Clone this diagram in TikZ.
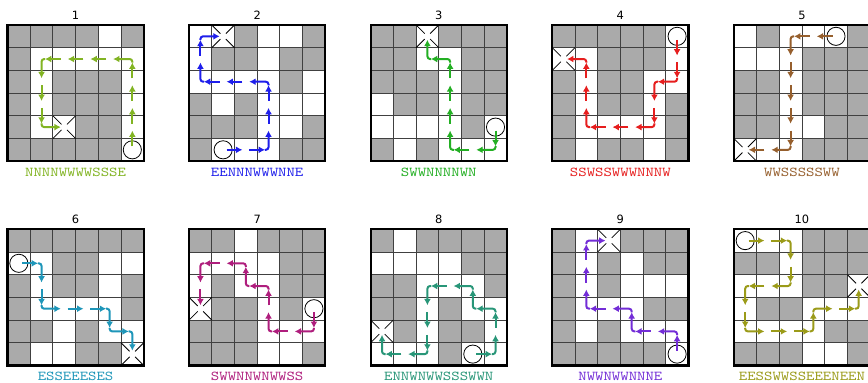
\documentclass[tikz,border=0pt]{standalone}
\usepackage{fontspec}
\usepackage{tikz}
\usetikzlibrary{arrows.meta}
\newfontfamily\numfont{DejaVu Sans}

\definecolor{cellgray}{RGB}{170,170,170}
\definecolor{walkA}{RGB}{130,180,35}
\definecolor{walkB}{RGB}{30,30,235}
\definecolor{walkC}{RGB}{35,175,35}
\definecolor{walkD}{RGB}{230,30,30}
\definecolor{walkE}{RGB}{150,95,45}
\definecolor{walkF}{RGB}{30,150,185}
\definecolor{walkG}{RGB}{175,30,125}
\definecolor{walkH}{RGB}{40,150,120}
\definecolor{walkI}{RGB}{115,45,215}
\definecolor{walkJ}{RGB}{155,155,25}

\tikzset{
  cellline/.style={draw=black!75,line width=0.6pt},
  boardframe/.style={draw=black,line width=1.6pt},
  walk/.style={draw=#1,line width=1.5pt,-{Latex[length=4.8pt,width=5.2pt]},shorten >=2.6pt},
  thinmark/.style={draw=black,line width=0.6pt},
  numlabel/.style={font=\numfont\fontsize{8.6}{10}\selectfont},
  codelabel/.style={font=\ttfamily\fontsize{10.2}{12}\selectfont,xscale=1.18},
}

% board rows: G = grey cell, W = white cell
\def\mzcells#1{\ifx#1\relax\else
  \if#1G\fill[cellgray] (\mzcol,-\mzrow) rectangle ++(1,-1);\fi
  \pgfmathtruncatemacro\mzcol{\mzcol+1}%
  \expandafter\mzcells\fi}
\newcommand\boardrow[2]{\def\mzrow{#1}\def\mzcol{0}\mzcells#2\relax}
\newcommand\board[6]{%
  \fill[white] (0,0) rectangle (6,-6);
  \boardrow{0}{#1}\boardrow{1}{#2}\boardrow{2}{#3}%
  \boardrow{3}{#4}\boardrow{4}{#5}\boardrow{5}{#6}%
  \draw[cellline,step=1] (0,-6) grid (6,0);
  \draw[boardframe] (0,0) rectangle (6,-6);}

% moves: N, S, E, W from the start cell
\newcommand\mzstep[1]{%
  \def\mzdir{#1}%
  \if#1N\def\mzdx{0}\def\mzdy{1}\fi
  \if#1S\def\mzdx{0}\def\mzdy{-1}\fi
  \if#1E\def\mzdx{1}\def\mzdy{0}\fi
  \if#1W\def\mzdx{-1}\def\mzdy{0}\fi
  \pgfmathsetmacro\mznx{\mzx+\mzdx}\pgfmathsetmacro\mzny{\mzy+\mzdy}%
  \ifx\mzdir\mzlast
    \draw[walk=\walkcol,shorten <=2.6pt] (\mzx,\mzy) -- (\mznx,\mzny);
  \else
    \pgfmathsetmacro\mzbx{\mzx-0.16*(\mzldx)}\pgfmathsetmacro\mzby{\mzy-0.16*(\mzldy)}%
    \draw[walk=\walkcol,rounded corners=2pt] (\mzbx,\mzby) -- (\mzx,\mzy) -- (\mznx,\mzny);
  \fi
  \let\mzlast\mzdir\let\mzldx\mzdx\let\mzldy\mzdy
  \let\mzx\mznx\let\mzy\mzny}
\def\mzloop#1{\ifx#1\relax\else\mzstep#1\expandafter\mzloop\fi}
\def\mzfirst#1{\def\mzlast{#1}\mzloop#1}
\newcommand\walk[5]{%
  \def\walkcol{#1}%
  \pgfmathsetmacro\mzx{#2+0.5}\pgfmathsetmacro\mzy{-#3-0.5}%
  \draw[thinmark] (\mzx,\mzy) circle (0.4);
  \mzfirst#4\relax
  \foreach \sx/\sy in {1/1,1/-1,-1/1,-1/-1}
    \draw[thinmark] (\mzx+0.5*\sx,\mzy+0.5*\sy) -- (\mzx+0.12*\sx,\mzy+0.12*\sy);
  \node[codelabel,text=#1] (#5) at (3,-6.5) {#4};}

\begin{document}
\begin{tikzpicture}[x=0.6cm,y=0.6cm]
  \fill[white] (0,0) rectangle (38.24,-16.83);
  \useasboundingbox (0,0) rectangle (38.24,-16.83);
  \clip (0,0) rectangle (38.24,-16.83);
  % top row
  \begin{scope}[shift={(0.33,-1.1)}]
    \board{GGGGWG}{GWWWWW}{GWGGGW}{GWGGGW}{GWWGGW}{GGGGGW}
    \walk{walkA}{5}{5}{NNNNWWWWSSSE}{code1}
    \node[numlabel] (num1) at (3,0.44) {1};
  \end{scope}
  \begin{scope}[shift={(8.33,-1.1)}]
    \board{WWGWWG}{WGGWGG}{WWWWGW}{GWGWWW}{GGGWWG}{GWWWGG}
    \walk{walkB}{1}{5}{EENNNWWWNNE}{code2}
    \node[numlabel] (num2) at (3,0.44) {2};
  \end{scope}
  \begin{scope}[shift={(16.33,-1.1)}]
    \board{GGWGGG}{GGWWGG}{GGGWGG}{WGGWGG}{WWWWGW}{GWGWWW}
    \walk{walkC}{5}{4}{SWWNNNNWN}{code3}
    \node[numlabel] (num3) at (3,0.44) {3};
  \end{scope}
  \begin{scope}[shift={(24.33,-1.1)}]
    \board{GGGGGW}{WWGGGW}{GWGGWW}{GWGGWG}{GWWWWG}{GWGGWG}
    \walk{walkD}{5}{0}{SSWSSWWWNNNW}{code4}
    \node[numlabel] (num4) at (3,0.44) {4};
  \end{scope}
  \begin{scope}[shift={(32.33,-1.1)}]
    \board{WGWWWG}{WWWGGG}{GGWGGG}{GGWGGG}{GGWWGG}{WWWGGG}
    \walk{walkE}{4}{0}{WWSSSSSWW}{code5}
    \node[numlabel] (num5) at (3,0.44) {5};
  \end{scope}
  % bottom row
  \begin{scope}[shift={(0.33,-10.1)}]
    \board{GGGGGG}{WWGGWW}{GWGGWG}{GWWWWG}{GGWGWW}{GWWGGW}
    \walk{walkF}{0}{1}{ESSEEESES}{code6}
    \node[numlabel] (num6) at (3,0.44) {6};
  \end{scope}
  \begin{scope}[shift={(8.33,-10.1)}]
    \board{GGWGGG}{WWWWGG}{WGWWGG}{WGGWGW}{GGGWWW}{GGGWWG}
    \walk{walkG}{5}{3}{SWWNNWNWWSS}{code7}
    \node[numlabel] (num7) at (3,0.44) {7};
  \end{scope}
  \begin{scope}[shift={(16.33,-10.1)}]
    \board{GWGGGG}{WWWWGG}{GGWWWG}{GGWGWW}{WGWGGW}{WWWGWW}
    \walk{walkH}{4}{5}{ENNWNWWSSSWWN}{code8}
    \node[numlabel] (num8) at (3,0.44) {8};
  \end{scope}
  \begin{scope}[shift={(24.33,-10.1)}]
    \board{GWWGGG}{GWGWGG}{GWGWWW}{GWWWGG}{GWGWWW}{GGGGGW}
    \walk{walkI}{5}{5}{NWWNWWNNNE}{code9}
    \node[numlabel] (num9) at (3,0.44) {9};
  \end{scope}
  \begin{scope}[shift={(32.33,-10.1)}]
    \board{WWWGGG}{GGWGGG}{WWWGGW}{WGGWWW}{WWWWGG}{GGGWWG}
    \walk{walkJ}{0}{0}{EESSWWSSEEENEEN}{code10}
    \node[numlabel] (num10) at (3,0.44) {10};
  \end{scope}
\end{tikzpicture}
\end{document}
